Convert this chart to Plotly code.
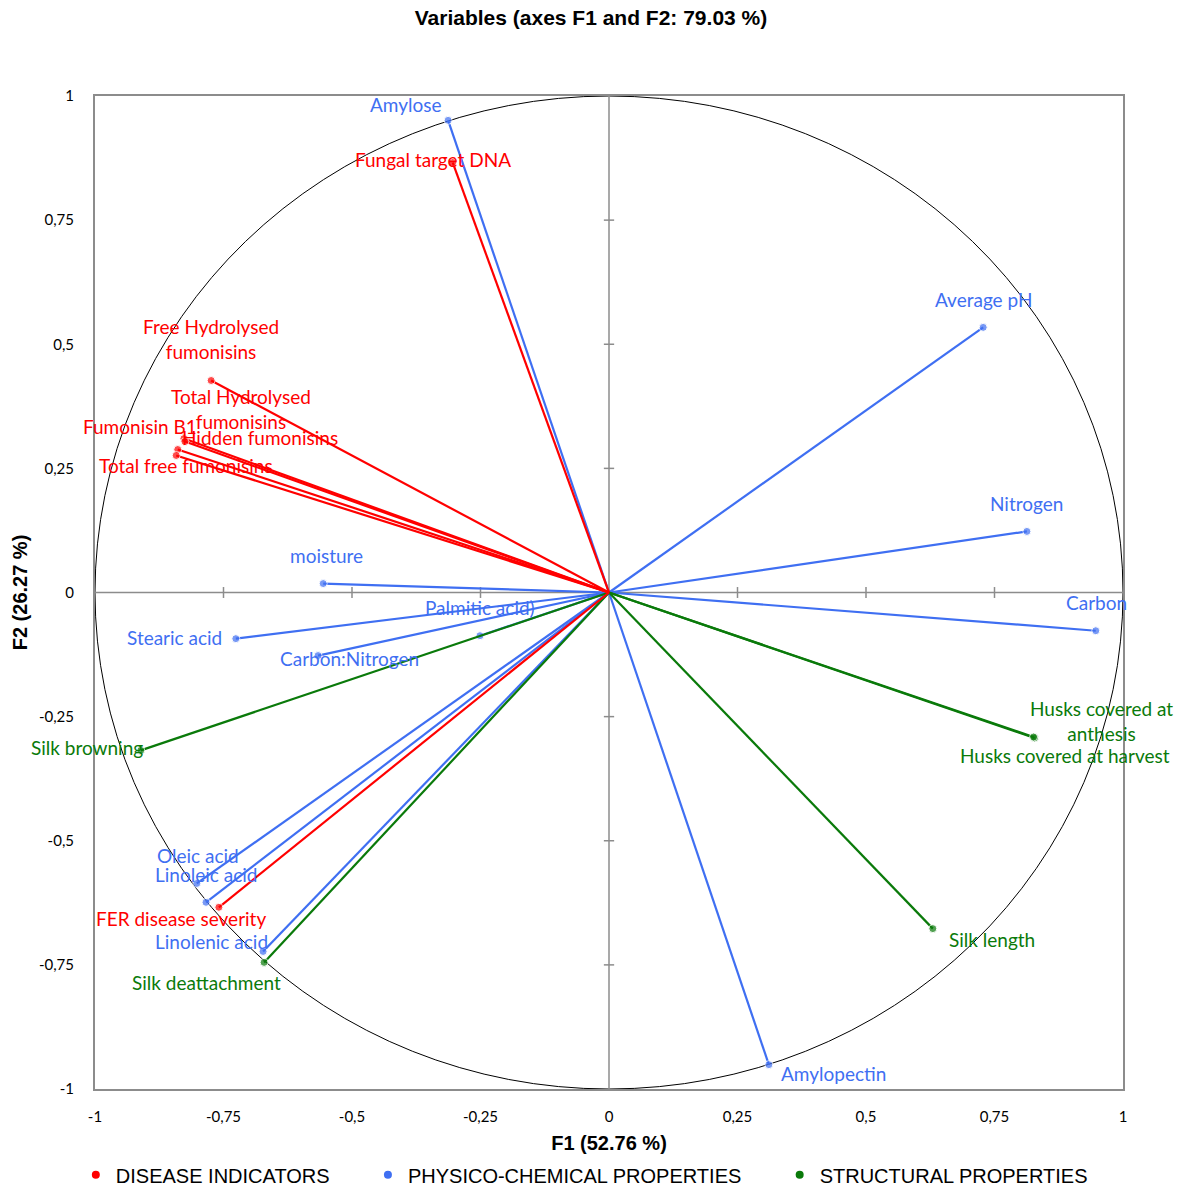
import plotly.graph_objects as go

# Correlation circle coordinates (F1, F2) for each variable, grouped by type
disease_names = ["Free Hydrolysed<br>fumonisins", "Total Hydrolysed<br>fumonisins", "Hidden fumonisins",
                 "Fumonisin B1", "Total free fumonisins", "Fungal target DNA", "FER disease severity"]
disease_f1 = [-0.774, -0.827, -0.825, -0.839, -0.842, -0.304, -0.759]
disease_f2 = [0.427, 0.310, 0.304, 0.288, 0.276, 0.866, -0.634]

physchem_names = ["Amylose", "Average pH", "Nitrogen", "Carbon", "Amylopectin", "Linolenic acid",
                  "Linoleic acid", "Oleic acid", "Stearic acid", "Carbon:Nitrogen", "Palmitic acid)", "moisture"]
physchem_f1 = [-0.313, 0.728, 0.813, 0.947, 0.311, -0.673, -0.784, -0.802, -0.726, -0.566, -0.251, -0.556]
physchem_f2 = [0.951, 0.534, 0.123, -0.077, -0.951, -0.723, -0.624, -0.586, -0.093, -0.127, -0.087, 0.018]

struct_names = ["Husks covered at<br>anthesis", "Husks covered at harvest", "Silk length",
                "Silk deattachment", "Silk browning"]
struct_f1 = [0.828, 0.826, 0.630, -0.671, -0.911]
struct_f2 = [-0.293, -0.291, -0.677, -0.745, -0.318]

group_names = ["DISEASE INDICATORS", "PHYSICO-CHEMICAL PROPERTIES", "STRUCTURAL PROPERTIES"]

tick_vals = [-1, -0.75, -0.5, -0.25, 0, 0.25, 0.5, 0.75, 1]
tick_text = ["-1", "-0,75", "-0,5", "-0,25", "0", "0,25", "0,5", "0,75", "1"]

# Label offsets in pixels (dx right, dy down) relative to each arrow tip
label_offsets = {
    "Free Hydrolysed<br>fumonisins": (0, -41),
    "Total Hydrolysed<br>fumonisins": (57, -30),
    "Hidden fumonisins": (75, -4),
    "Fumonisin B1": (-38, -23),
    "Total free fumonisins": (10, 10),
    "Fungal target DNA": (-20, -3),
    "FER disease severity": (-38, 11),
    "Amylose": (-42, -16),
    "Average pH": (0, -28),
    "Nitrogen": (0, -28),
    "Carbon": (1, -28),
    "Amylopectin": (65, 9),
    "Linolenic acid": (-52, -10),
    "Linoleic acid": (0, -28),
    "Oleic acid": (1, -28),
    "Stearic acid": (-61, -1),
    "Carbon:Nitrogen": (31, 3),
    "Palmitic acid)": (0, -28),
    "moisture": (3, -28),
    "Husks covered at<br>anthesis": (67, -17),
    "Husks covered at harvest": (31, 19),
    "Silk length": (59, 11),
    "Silk deattachment": (-58, 20),
    "Silk browning": (-54, -3),
}

RED = "#FF0000"
BLUE = "#3F6FF2"
GREEN = "#0A7A0A"
LABEL_FONT = "Lato, Open Sans, sans-serif"
TITLE_FONT = "Liberation Sans, Arial, sans-serif"
AXIS_GREY = "#8c8c8c"

fig = go.Figure()

# Unit circle and zero axes with cross ticks
fig.add_shape(type="circle", xref="x", yref="y", x0=-1, y0=-1, x1=1, y1=1,
              line=dict(color="black", width=1), layer="below")
fig.add_shape(type="line", x0=-1, x1=1, y0=0, y1=0, line=dict(color=AXIS_GREY, width=1.5), layer="below")
fig.add_shape(type="line", x0=0, x1=0, y0=-1, y1=1, line=dict(color=AXIS_GREY, width=1.5), layer="below")
for v in tick_vals:
    if v in (0, -1, 1):
        continue
    fig.add_shape(type="line", x0=v, x1=v, y0=-0.011, y1=0.011,
                  line=dict(color=AXIS_GREY, width=1.5), layer="below")
    fig.add_shape(type="line", x0=-0.01, x1=0.01, y0=v, y1=v,
                  line=dict(color=AXIS_GREY, width=1.5), layer="below")


def add_group(names, xs, ys, color):
    for n, x, y in zip(names, xs, ys):
        fig.add_trace(go.Scatter(
            x=[0, x], y=[0, y], mode="lines+markers",
            line=dict(color=color, width=2.2),
            marker=dict(color=color, size=[0, 8]),
            showlegend=False, hoverinfo="skip"))
        dx, dy = label_offsets[n]
        fig.add_annotation(x=x, y=y, text=n, showarrow=False, xshift=dx, yshift=-dy,
                           font=dict(family=LABEL_FONT, size=19, color=color),
                           align="center")


add_group(physchem_names, physchem_f1, physchem_f2, BLUE)
add_group(struct_names, struct_f1, struct_f2, GREEN)
add_group(disease_names, disease_f1, disease_f2, RED)

# Legend entries, one per variable group (padded with non-breaking spaces for spacing)
pad = "\u00a0" * 6
for i, (name, color) in enumerate(zip(group_names, [RED, BLUE, GREEN])):
    fig.add_trace(go.Scatter(
        x=[None], y=[None], mode="markers",
        name=name + (pad if i < len(group_names) - 1 else ""),
        marker=dict(color=color, size=8)))

fig.update_layout(
    width=1182, height=1189,
    margin=dict(l=95, r=59, t=96, b=100),
    paper_bgcolor="white", plot_bgcolor="white",
    title=dict(text="<b>Variables (axes F1 and F2: 79.03 %)</b>", x=0.5, xanchor="center",
               y=0.985, yanchor="middle",
               font=dict(family=TITLE_FONT, size=21, color="black")),
    xaxis=dict(range=[-1, 1], tickvals=tick_vals, ticktext=tick_text, showgrid=False, zeroline=False,
               showline=True, mirror=True, linecolor=AXIS_GREY, linewidth=2,
               ticks="", ticklabelstandoff=13, automargin=False,
               tickfont=dict(family=LABEL_FONT, size=15, color="black"),
               title=dict(text="<b>F1 (52.76 %)</b>", standoff=12,
                          font=dict(family=TITLE_FONT, size=20, color="black"))),
    yaxis=dict(range=[-1, 1], tickvals=tick_vals, ticktext=tick_text, showgrid=False, zeroline=False,
               showline=True, mirror=True, linecolor=AXIS_GREY, linewidth=2,
               ticks="", ticklabelstandoff=16, automargin=False,
               tickfont=dict(family=LABEL_FONT, size=15, color="black"),
               title=dict(text="<b>F2 (26.27 %)</b>", standoff=6,
                          font=dict(family=TITLE_FONT, size=20, color="black"))),
    legend=dict(orientation="h", x=0.476, xanchor="center", yref="container", y=0.012, yanchor="middle",
                font=dict(family="Liberation Sans Narrow, Liberation Sans, sans-serif", size=20, color="black"),
                itemwidth=30),
)

fig.write_html("out.html")
